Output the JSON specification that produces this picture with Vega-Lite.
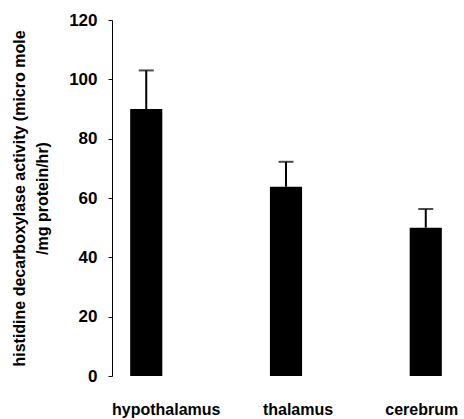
{
  "$schema": "https://vega.github.io/schema/vega-lite/v6.json",
  "width": 348,
  "height": 356,
  "autosize": {"type": "none"},
  "padding": {"left": 112, "top": 20, "right": 4, "bottom": 43},
  "background": "white",
  "config": {
    "view": {"stroke": null},
    "font": "Liberation Sans"
  },
  "data": {
    "values": [
      {"region": "hypothalamus", "mean": 90, "upper": 103},
      {"region": "thalamus", "mean": 63.8, "upper": 72.2},
      {"region": "cerebrum", "mean": 50, "upper": 56.3}
    ]
  },
  "encoding": {
    "x": {
      "field": "region",
      "type": "nominal",
      "sort": null,
      "scale": {"paddingInner": 0.77, "paddingOuter": 0.13},
      "axis": {
        "title": null,
        "domain": false,
        "ticks": false,
        "labelAngle": 0,
        "labelFontSize": 16,
        "labelFontWeight": "bold",
        "labelColor": "black",
        "labelPadding": 25,
        "labelOffset": {"expr": "datum.value == 'hypothalamus' ? 20 : datum.value == 'thalamus' ? 12 : -4"}
      }
    }
  },
  "layer": [
    {
      "mark": {"type": "bar", "color": "black"},
      "encoding": {
        "y": {
          "field": "mean",
          "type": "quantitative",
          "scale": {"domain": [0, 120], "nice": false},
          "axis": {
            "title": ["histidine decarboxylase activity (micro mole", "/mg protein/hr)"],
            "titleFontSize": 16,
            "titleFontWeight": "bold",
            "titleColor": "black",
            "titleLineHeight": 23,
            "titlePadding": 18,
            "values": [0, 20, 40, 60, 80, 100, 120],
            "grid": false,
            "domainColor": "black",
            "tickColor": "black",
            "tickSize": 4,
            "labelFontSize": 17,
            "labelFontWeight": "bold",
            "labelColor": "black",
            "labelPadding": 11
          }
        }
      }
    },
    {
      "mark": {"type": "rule", "color": "black", "strokeWidth": 2},
      "encoding": {
        "y": {"field": "mean", "type": "quantitative"},
        "y2": {"field": "upper"}
      }
    },
    {
      "mark": {"type": "tick", "color": "black", "thickness": 2, "size": 15},
      "encoding": {
        "y": {"field": "upper", "type": "quantitative"}
      }
    }
  ]
}
